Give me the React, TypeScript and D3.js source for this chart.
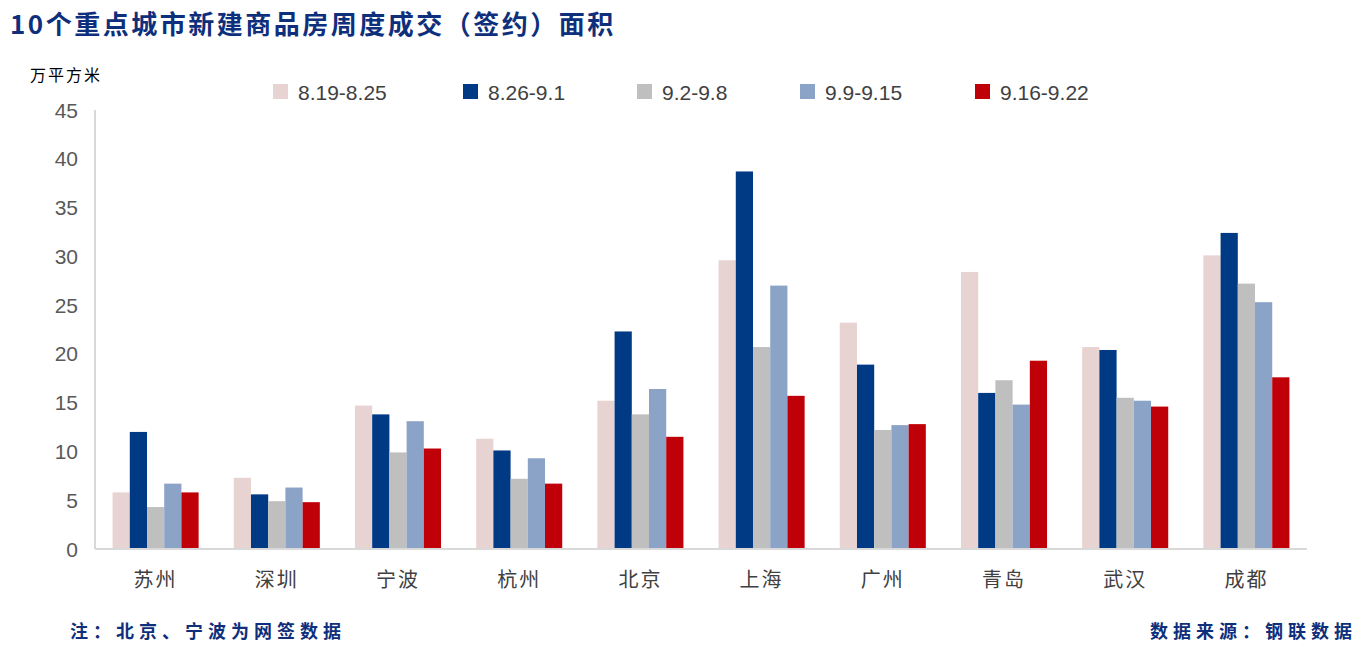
import React from "react";
import * as d3 from "d3";

const cities = ["苏州", "深圳", "宁波", "杭州", "北京", "上海", "广州", "青岛", "武汉", "成都"];
const seriesNames = ["8.19-8.25", "8.26-9.1", "9.2-9.8", "9.9-9.15", "9.16-9.22"];
const w0819 = [5.8, 7.3, 14.7, 11.3, 15.2, 29.6, 23.2, 28.4, 20.7, 30.1];
const w0826 = [12.0, 5.6, 13.8, 10.1, 22.3, 38.7, 18.9, 16.0, 20.4, 32.4];
const w0902 = [4.3, 4.9, 9.9, 7.2, 13.8, 20.7, 12.2, 17.3, 15.5, 27.2];
const w0909 = [6.7, 6.3, 13.1, 9.3, 16.4, 27.0, 12.7, 14.8, 15.2, 25.3];
const w0916 = [5.8, 4.8, 10.3, 6.7, 11.5, 15.7, 12.8, 19.3, 14.6, 17.6];
const yTicks = [0, 5, 10, 15, 20, 25, 30, 35, 40, 45];

const seriesValues = [w0819, w0826, w0902, w0909, w0916];
const colors = ["#E8D3D3", "#003A85", "#BFBFBF", "#8BA3C7", "#BF0008"];
const legendX = [273, 463, 637, 800, 975];

const W = 1365;
const H = 645;
const left = 95;
const right = 1307;
const top = 110;
const bottom = 549;

export default function App() {
  const x = d3.scaleBand<string>().domain(cities).range([left, right]).paddingInner(0.29).paddingOuter(0.145);
  const xs = d3.scaleBand<string>().domain(seriesNames).range([0, x.bandwidth()]).padding(0);
  const y = d3.scaleLinear().domain([0, 45]).range([bottom, top]);
  const cjk = "'Noto Sans CJK SC', 'Noto Sans', sans-serif";
  const num = "'Liberation Sans', Arial, sans-serif";

  return (
    <svg width={W} height={H} style={{ position: "absolute", left: 0, top: 0, background: "#fff" }}>
      <text x={10} y={34} fontFamily={cjk} fontWeight={700} fontSize={26} letterSpacing={2.5} fill="#0E2F7C">
        10个重点城市新建商品房周度成交（签约）面积
      </text>
      <text x={30} y={81} fontFamily={cjk} fontSize={16} letterSpacing={2} fill="#000">万平方米</text>

      {seriesNames.map((s, i) => (
        <g key={s}>
          <rect x={legendX[i]} y={84} width={15} height={15} fill={colors[i]} />
          <text x={legendX[i] + 25} y={100} fontFamily={num} fontSize={21} fill="#404040">{s}</text>
        </g>
      ))}

      {yTicks.map((t) => (
        <text key={t} x={78} y={y(t)} dy="0.36em" textAnchor="end" fontFamily={num} fontSize={21} fill="#595959">
          {t}
        </text>
      ))}

      {cities.map((c, ci) => (
        <g key={c} transform={`translate(${x(c)},0)`}>
          {seriesNames.map((s, si) => (
            <rect
              key={s}
              x={xs(s)}
              y={y(seriesValues[si][ci])}
              width={xs.bandwidth()}
              height={bottom - y(seriesValues[si][ci])}
              fill={colors[si]}
            />
          ))}
        </g>
      ))}

      <line x1={left} x2={left} y1={top} y2={bottom} stroke="#D9D9D9" strokeWidth={2} />
      <line x1={left} x2={right} y1={bottom} y2={bottom} stroke="#D9D9D9" strokeWidth={2} />

      {cities.map((c) => (
        <text key={c} x={(x(c) as number) + x.bandwidth() / 2} y={587} textAnchor="middle" fontFamily={cjk} fontSize={20} letterSpacing={2} fill="#404040">
          {c}
        </text>
      ))}

      <text x={70} y={638} fontFamily={cjk} fontWeight={700} fontSize={18} letterSpacing={5} fill="#0E2F7C">
        注：北京、宁波为网签数据
      </text>
      <text x={1357} y={638} textAnchor="end" fontFamily={cjk} fontWeight={700} fontSize={18} letterSpacing={5} fill="#0E2F7C">
        数据来源：钢联数据
      </text>
    </svg>
  );
}
